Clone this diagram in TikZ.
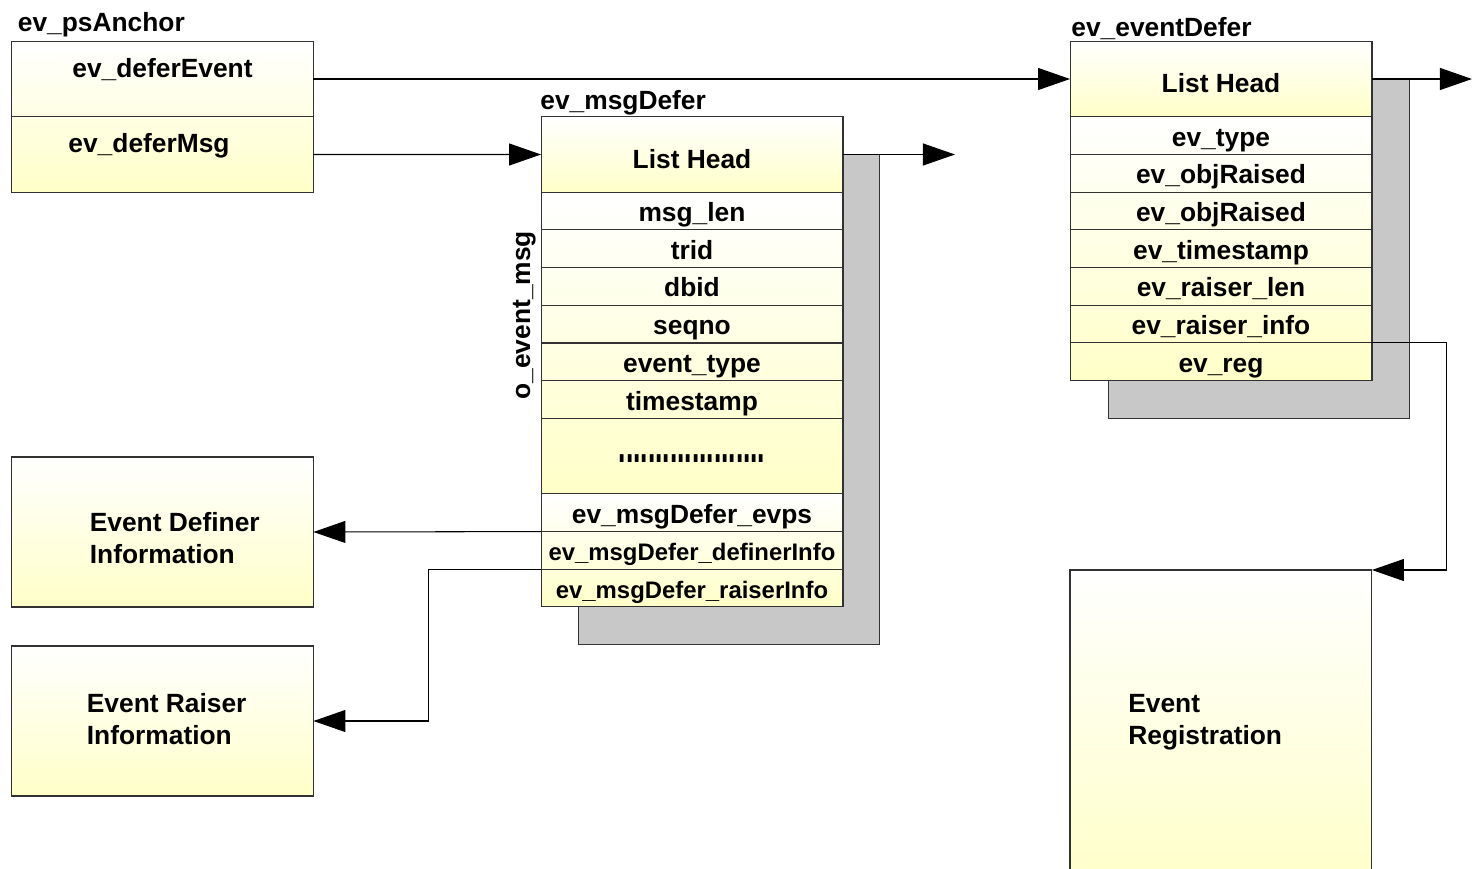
\documentclass[tikz,border=0pt]{standalone}
\usepackage{fontspec}
\setmainfont{Liberation Sans}
\usetikzlibrary{positioning,arrows.meta}
\definecolor{cellyel}{RGB}{255,255,200}
\definecolor{shadowgray}{RGB}{200,200,200}
\definecolor{edgegray}{RGB}{50,50,50}
\pgfdeclarelayer{shadows}
\pgfdeclarelayer{fills}
\pgfsetlayers{shadows,fills,main}
\tikzset{
  cell/.style={draw=edgegray,line width=0.6pt,minimum width=6.04cm,minimum height=0.754cm,
    inner sep=0pt,outer sep=0pt,text height=0.52cm,text depth=0.1cm,
    font=\fontsize{15}{18}\selectfont\bfseries},
  headcell/.style={cell,minimum height=1.51cm,text height=0.55cm,text depth=0cm},
  anchorcell/.style={cell,minimum height=1.51cm,text height=0.4cm,text depth=0.46cm},
  smallcell/.style={cell,font=\fontsize{13.6}{16}\selectfont\bfseries},
  infobox/.style={draw=edgegray,line width=0.6pt,minimum width=6.04cm,minimum height=3cm,
    outer sep=0pt,top color=white,bottom color=cellyel},
  infotext/.style={anchor=west,align=left,inner sep=0pt,font=\fontsize{15}{18.2}\selectfont\bfseries},
  title/.style={anchor=base west,inner sep=0pt,font=\fontsize{15}{18}\selectfont\bfseries},
  grad/.style={top color=white,bottom color=cellyel},
  shadowbox/.style={fill=shadowgray,draw=edgegray,line width=0.6pt},
  link/.style={draw=black,line width=0.6pt,-{Triangle[length=0.64cm,width=0.44cm]}}
}
\begin{document}
\begin{tikzpicture}[x=0.02cm,y=-0.02cm]
  \useasboundingbox (0,0) rectangle (1472,869);
  % ev_psAnchor
  \node[anchorcell] (adefev) at (162.5,79) {ev\_deferEvent};
  \node[anchorcell,below=0pt of adefev] (adefmsg) {\hspace*{-0.54cm}ev\_deferMsg};
  \node[title] (atitle) at ([xshift=0.12cm,yshift=0.19cm]adefev.north west) {ev\_psAnchor};
  % ev_msgDefer
  \node[headcell] (mhead) at (692,154.5) {List Head};
  \foreach \n/\t [remember=\n as \prev (initially mhead)] in
    {mlen/msg\_len,mtrid/trid,mdbid/dbid,mseq/seqno,mtype/event\_type,mstamp/timestamp}
    \node[cell,below=0pt of \prev] (\n) {\t};
  \node[cell,minimum height=1.51cm,text height=0.26cm,text depth=0cm,below=0pt of mstamp] (mdots)
    {\scalebox{1}[2]{....................}};
  \node[cell,below=0pt of mdots] (mevps) {ev\_msgDefer\_evps};
  \node[smallcell,below=0pt of mevps] (mdef) {ev\_msgDefer\_definerInfo};
  \node[smallcell,below=0pt of mdef] (mrais) {ev\_msgDefer\_raiserInfo};
  \node[title] (mtitle) at ([xshift=-0.02cm,yshift=0.14cm]mhead.north west) {ev\_msgDefer};
  \node[title,rotate=90,anchor=base] (mside) at ([xshift=-0.22cm,yshift=-0.2cm]mseq.north west) {o\_event\_msg};
  \coordinate[right=2.24cm of mhead.east] (mnext);
  % ev_eventDefer
  \node[headcell] (ehead) at (1221,79) {List Head};
  \foreach \n/\t [remember=\n as \prev (initially ehead)] in
    {etype/ev\_type,eobj/ev\_objRaised,eobjb/ev\_objRaised,estamp/ev\_timestamp,
     elen/ev\_raiser\_len,einfo/ev\_raiser\_info,ereg/ev\_reg}
    \node[cell,below=0pt of \prev] (\n) {\t};
  \node[title] (etitle) at ([xshift=0.02cm,yshift=0.1cm]ehead.north west) {ev\_eventDefer};
  \coordinate[right=2cm of ehead.east] (enext);
  % info boxes
  \node[infobox] (definfo) at (162.5,532) {};
  \node[infotext] (deftext) at ([xshift=1.56cm,yshift=-0.12cm]definfo.west) {Event Definer\\Information};
  \node[infobox] (raiseinfo) at (162.5,721) {};
  \node[infotext] (raisetext) at ([xshift=1.5cm,yshift=0.04cm]raiseinfo.west) {Event Raiser\\Information};
  \node[infobox,minimum height=6.4cm,anchor=north west] (reginfo) at (1070,570) {};
  \node[infotext] (regtext) at ([xshift=1.16cm,yshift=-3.04cm]reginfo.north west) {Event\\Registration};
  % gradients and shadows
  \begin{pgfonlayer}{fills}
    \fill[grad] (adefev.north west) rectangle (adefmsg.south east);
    \fill[grad] (mhead.north west) rectangle (mhead.south east);
    \fill[grad] (mlen.north west) rectangle (mdots.south east);
    \fill[grad] (mevps.north west) rectangle (mrais.south east);
    \fill[grad] (ehead.north west) rectangle (ehead.south east);
    \fill[grad] (etype.north west) rectangle (ereg.south east);
  \end{pgfonlayer}
  \begin{pgfonlayer}{shadows}
    \draw[shadowbox] ([shift={(0.74cm,-0.76cm)}]mhead.north west) rectangle ([shift={(0.74cm,-0.76cm)}]mrais.south east);
    \draw[shadowbox] ([shift={(0.76cm,-0.76cm)}]ehead.north west) rectangle ([shift={(0.76cm,-0.76cm)}]ereg.south east);
  \end{pgfonlayer}
  % links
  \draw[link] (adefev.east) -- (ehead.west);
  \draw[link] (adefmsg.east) -- (mhead.west);
  \draw[link] (mhead.east) -- (mnext);
  \draw[link] (ehead.east) -- (enext);
  \draw[link] (mdef.north west) -- (definfo.east);
  \draw[link] (mrais.north west) -- ++(-2.26cm,0) |- (raiseinfo.east);
  \draw[link] (ereg.north east) -- ++(1.5cm,0) |- (reginfo.north east);
\end{tikzpicture}
\end{document}
